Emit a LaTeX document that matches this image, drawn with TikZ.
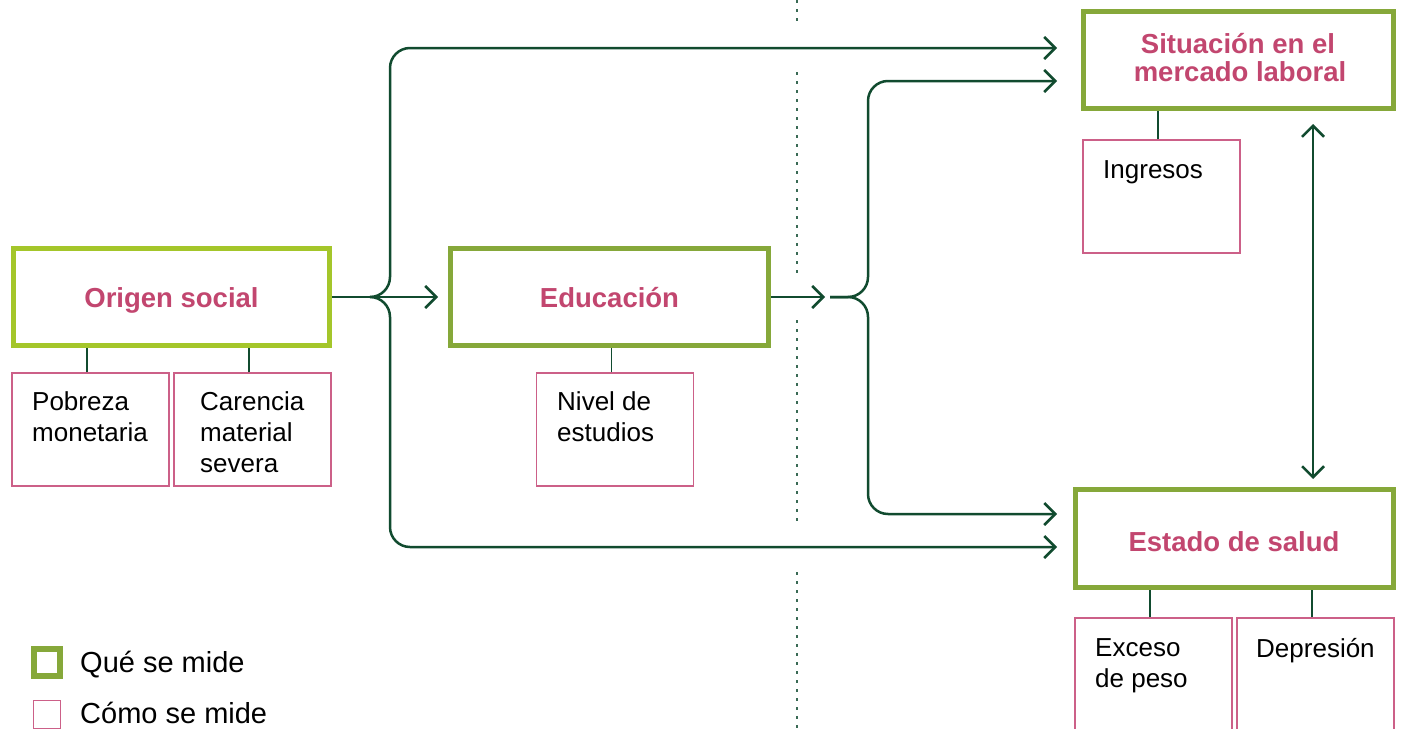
\documentclass[tikz,border=0pt]{standalone}
\usepackage{fontspec}
\setmainfont{Liberation Sans}
\usetikzlibrary{arrows.meta}
\definecolor{dg}{HTML}{114B2F}
\definecolor{dotc}{HTML}{3A6A55}
\definecolor{olv}{HTML}{86A83A}
\definecolor{lim}{HTML}{A4C62A}
\definecolor{pk}{HTML}{C2466F}
\definecolor{pkb}{HTML}{CC6088}
\tikzset{
 whatbox/.style={draw=olv, line width=5pt, fill=white, inner sep=0pt},
 ttl/.style={font=\fontsize{27.5}{28}\selectfont\bfseries, text=pk, anchor=base, inner sep=0pt},
 howbox/.style={draw=pkb, line width=1.5pt, inner sep=0pt, minimum width=157pt, minimum height=113pt},
 howtext/.style={font=\fontsize{26}{31}\selectfont, align=left, anchor=north west, inner sep=0pt, text=black},
 conn/.style={draw=dg, line width=2.5pt},
 tie/.style={draw=dg, line width=1.5pt},
 tipend/.style={-{Straight Barb[length=11pt,width=22pt]}},
 tipboth/.style={{Straight Barb[length=11pt,width=22pt]}-{Straight Barb[length=11pt,width=22pt]}},
 dotline/.style={draw=dotc, line width=2.2pt, dash pattern=on 2.5pt off 6.5pt},
 legtext/.style={font=\fontsize{29}{31}\selectfont, anchor=base west, inner sep=0pt}
}
\begin{document}
\begin{tikzpicture}[x=1pt,y=-1pt]
\useasboundingbox (0,0) rectangle (1405,728);
\clip (0,0) rectangle (1405,728);

% dotted separator
\draw[dotline] (797,0) -- (797,22);
\draw[dotline] (797,72) -- (797,274);
\draw[dotline] (797,320) -- (797,525);
\draw[dotline] (797,572) -- (797,728);

% what boxes
\node[whatbox, draw=lim, minimum width=316pt, minimum height=97pt] (orig) at (171.5,296.5) {};
\node[whatbox, minimum width=318pt, minimum height=97pt] (edu) at (609.5,296.5) {};
\node[whatbox, minimum width=310pt, minimum height=97pt] (sit) at (1238,59.5) {};
\node[whatbox, minimum width=318pt, minimum height=98pt] (est) at (1234,538) {};

\node[ttl] (torig) at (171.5,307) {Origen social};
\node[ttl] (tedu) at (609.5,307) {Educación};
\node[ttl] (tsit1) at (1238,53) {Situación en el};
\node[ttl] (tsit2) at (1240,81) {mercado laboral};
\node[ttl] (test) at (1234,551) {Estado de salud};

% how boxes
\node[howbox] (pob) at (90.5,429.5) {};
\node[howbox] (car) at (252.5,429.5) {};
\node[howbox] (niv) at (615,429.5) {};
\node[howbox] (ing) at (1161.5,196.5) {};
\node[howbox] (exc) at (1153.5,674.5) {};
\node[howbox] (dep) at (1315.5,674.5) {};

\node[howtext] (tpob) at (32,391.5) {Pobreza\\monetaria};
\node[howtext] (tcar) at (200,391.5) {Carencia\\material\\severa};
\node[howtext] (tniv) at (557,391.5) {Nivel de\\estudios};
\node[howtext] (ting) at (1103,160.5) {Ingresos};
\node[howtext] (texc) at (1095,638.5) {Exceso\\de peso};
\node[howtext] (tdep) at (1256,638.5) {Depresión};

% ties
\draw[tie] ([xshift=-3.5pt]pob.north) -- ([xshift=-3.5pt]pob.north |- orig.south);
\draw[tie] ([xshift=-3.5pt]car.north) -- ([xshift=-3.5pt]car.north |- orig.south);
\draw[tie] ([xshift=-3.5pt]niv.north) -- ([xshift=-3.5pt]niv.north |- edu.south);
\draw[tie] ([xshift=-3.5pt]ing.north) -- ([xshift=-3.5pt]ing.north |- sit.south);
\draw[tie] ([xshift=-3.5pt]exc.north) -- ([xshift=-3.5pt]exc.north |- est.south);
\draw[tie] ([xshift=-3.5pt]dep.north) -- ([xshift=-3.5pt]dep.north |- est.south);

% main connectors
\coordinate (j1) at (370,297);
\coordinate (j2) at (830,297);
\coordinate (a1) at (438,297);
\coordinate (a2) at (825,297);
\coordinate (e1) at (1057,48);
\coordinate (e2) at (1057,547);
\coordinate (e3) at (1057,81);
\coordinate (e4) at (1057,514);
\coordinate (v1) at (1313,124);
\coordinate (v2) at (1313,479);

\draw[conn, tipend] (orig.east |- a1) -- (a1);
\draw[conn, tipend] (edu.east |- a2) -- (a2);
\draw[conn, tipend, rounded corners=20pt] (j1) -| (390,48) -- (e1);
\draw[conn, tipend, rounded corners=20pt] (j1) -| (390,547) -- (e2);
\draw[conn, tipend, rounded corners=20pt] (j2) -| (868,81) -- (e3);
\draw[conn, tipend, rounded corners=20pt] (j2) -| (868,514) -- (e4);
\draw[conn, tipboth] (v1) -- (v2);

% legend
\node[draw=olv, line width=6pt, minimum width=26pt, minimum height=27pt, inner sep=0pt] (lg1) at (47,662.5) {};
\node[draw=pkb, line width=1.5pt, minimum width=27pt, minimum height=28pt, inner sep=0pt] (lg2) at (47,714.5) {};
\node[legtext] (lt1) at (80,672.5) {Qué se mide};
\node[legtext] (lt2) at (80,723.5) {Cómo se mide};
\end{tikzpicture}
\end{document}
